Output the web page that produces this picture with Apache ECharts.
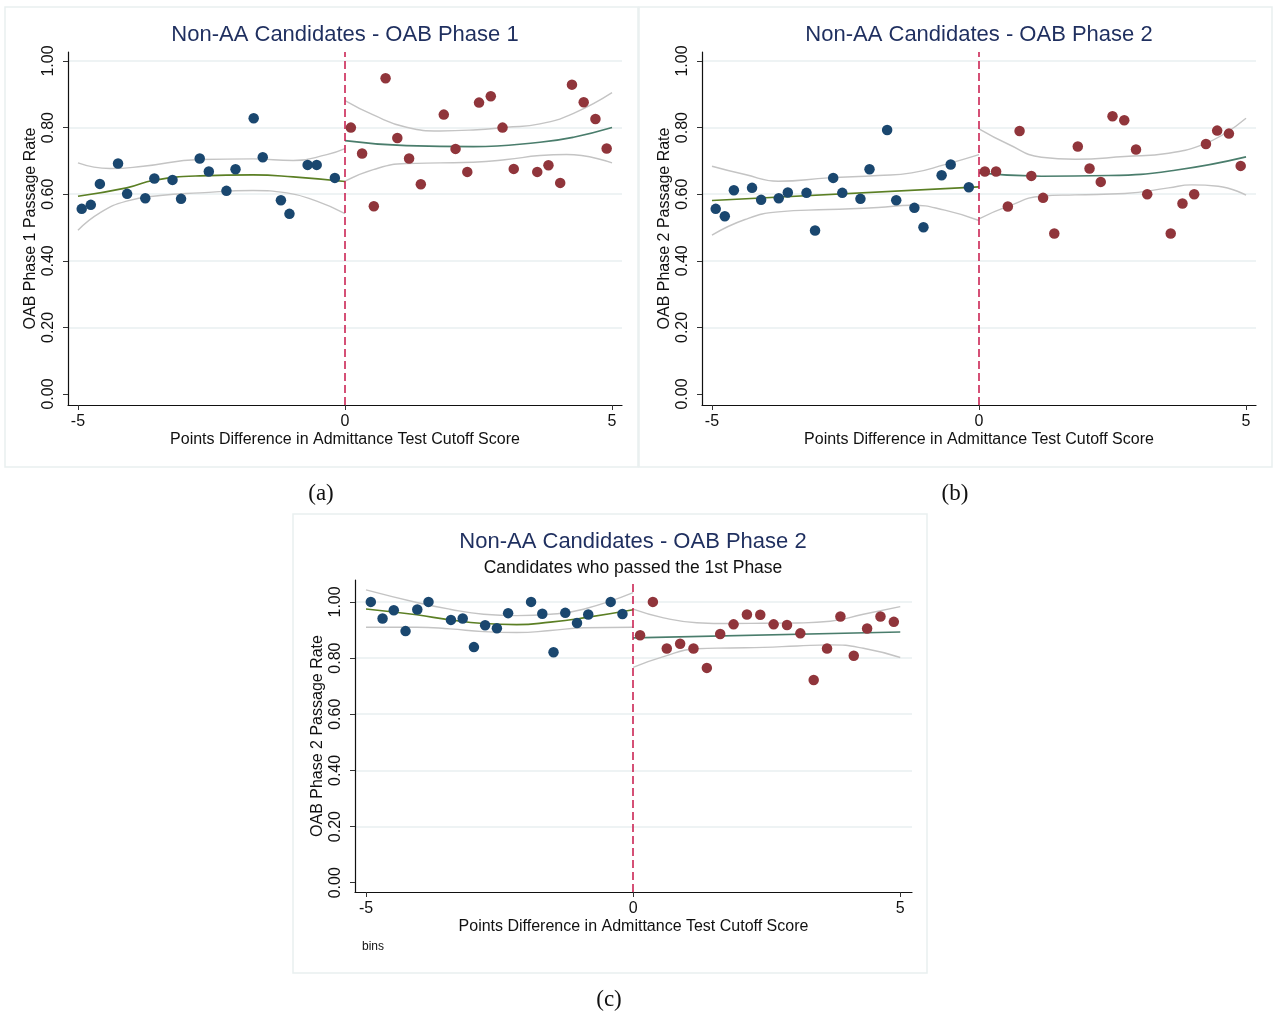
<!DOCTYPE html>
<html>
<head>
<meta charset="utf-8">
<script src="https://cdn.jsdelivr.net/npm/echarts@6/dist/echarts.min.js"></script>
<style>
  html, body { margin: 0; padding: 0; background: #ffffff; }
  #chart { width: 1277px; height: 1019px; }
</style>
</head>
<body>
<div id="chart"></div>
<script>
// Tick positions shared by the three panels
const xTickValues = [-5, 0, 5];
const yTickValues = [0, 0.2, 0.4, 0.6, 0.8, 1.0];

// Panel (a): OAB Phase 1 - binned passage rates below / above the cutoff
const p1BinsBelow = [
  [-4.93, 0.556], [-4.76, 0.568], [-4.59, 0.631], [-4.25, 0.692], [-4.08, 0.601],
  [-3.74, 0.588], [-3.57, 0.647], [-3.23, 0.643], [-3.07, 0.586], [-2.72, 0.707],
  [-2.55, 0.668], [-2.22, 0.610], [-2.05, 0.675], [-1.71, 0.828], [-1.54, 0.711],
  [-1.20, 0.582], [-1.04, 0.541], [-0.70, 0.688], [-0.53, 0.688], [-0.19, 0.649]
];
const p1BinsAbove = [
  [0.11, 0.800], [0.32, 0.722], [0.54, 0.564], [0.76, 0.948], [0.98, 0.769],
  [1.20, 0.707], [1.42, 0.630], [1.85, 0.839], [2.07, 0.736], [2.29, 0.667],
  [2.51, 0.875], [2.73, 0.894], [2.95, 0.800], [3.16, 0.676], [3.60, 0.667],
  [3.81, 0.687], [4.03, 0.634], [4.25, 0.929], [4.47, 0.876], [4.69, 0.826],
  [4.90, 0.737]
];
const p1FitBelow = [[-5.0, 0.594], [-4.09, 0.619], [-3.57, 0.642], [-2.72, 0.655], [-1.72, 0.658], [-0.97, 0.652], [0, 0.638]];
const p1CiHighBelow = [[-5.0, 0.694], [-4.40, 0.677], [-3.78, 0.684], [-2.72, 0.704], [-1.72, 0.706], [-0.97, 0.701], [-0.34, 0.719], [0, 0.737]];
const p1CiLowBelow = [[-5.0, 0.492], [-4.59, 0.544], [-4.09, 0.579], [-3.46, 0.596], [-2.72, 0.604], [-1.72, 0.611], [-1.09, 0.604], [-0.53, 0.579], [0, 0.542]];
const p1FitAbove = [[0, 0.761], [1.15, 0.746], [2.40, 0.743], [3.65, 0.756], [4.28, 0.771], [5.0, 0.800]];
const p1CiHighAbove = [[0, 0.881], [0.53, 0.838], [1.15, 0.801], [1.78, 0.790], [2.40, 0.793], [3.03, 0.801], [3.65, 0.811], [4.28, 0.843], [5.0, 0.905]];
const p1CiLowAbove = [[0, 0.639], [0.53, 0.674], [1.15, 0.692], [1.78, 0.694], [2.40, 0.696], [3.03, 0.704], [3.65, 0.716], [4.15, 0.719], [5.0, 0.694]];

// Panel (b): OAB Phase 2
const p2BinsBelow = [
  [-4.93, 0.556], [-4.76, 0.534], [-4.59, 0.612], [-4.25, 0.619], [-4.08, 0.583],
  [-3.75, 0.588], [-3.58, 0.605], [-3.23, 0.604], [-3.07, 0.491], [-2.73, 0.649],
  [-2.56, 0.604], [-2.22, 0.586], [-2.05, 0.675], [-1.72, 0.793], [-1.55, 0.582],
  [-1.21, 0.559], [-1.04, 0.501], [-0.70, 0.657], [-0.53, 0.689], [-0.19, 0.621]
];
const p2BinsAbove = [
  [0.11, 0.668], [0.32, 0.668], [0.54, 0.563], [0.76, 0.790], [0.98, 0.655],
  [1.20, 0.589], [1.41, 0.482], [1.85, 0.743], [2.07, 0.677], [2.28, 0.637],
  [2.50, 0.834], [2.72, 0.822], [2.94, 0.734], [3.15, 0.600], [3.59, 0.482],
  [3.81, 0.572], [4.03, 0.600], [4.25, 0.751], [4.46, 0.791], [4.68, 0.782],
  [4.90, 0.685]
];
const p2FitBelow = [[-5.0, 0.581], [0, 0.622]];
const p2CiHighBelow = [[-5.0, 0.684], [-4.38, 0.659], [-3.76, 0.639], [-2.82, 0.649], [-1.89, 0.656], [-1.26, 0.664], [-0.64, 0.689], [0, 0.719]];
const p2CiLowBelow = [[-5.0, 0.477], [-4.38, 0.524], [-3.76, 0.547], [-2.82, 0.554], [-1.89, 0.560], [-1.26, 0.567], [-0.64, 0.552], [0, 0.521]];
const p2FitAbove = [[0, 0.664], [1.17, 0.654], [2.42, 0.656], [3.67, 0.672], [5.0, 0.712]];
const p2CiHighAbove = [[0, 0.796], [0.55, 0.750], [1.17, 0.711], [1.80, 0.705], [2.73, 0.713], [3.55, 0.723], [4.17, 0.748], [4.61, 0.783], [5.0, 0.828]];
const p2CiLowAbove = [[0, 0.526], [0.55, 0.564], [1.17, 0.594], [1.80, 0.598], [2.73, 0.602], [3.55, 0.619], [3.98, 0.628], [4.48, 0.624], [5.0, 0.597]];

// Panel (c): OAB Phase 2, candidates who passed the 1st phase
const p3BinsBelow = [
  [-4.91, 1.000], [-4.69, 0.941], [-4.48, 0.970], [-4.26, 0.896], [-4.04, 0.973],
  [-3.83, 1.000], [-3.41, 0.936], [-3.19, 0.941], [-2.98, 0.839], [-2.77, 0.917],
  [-2.55, 0.906], [-2.34, 0.960], [-1.91, 1.000], [-1.70, 0.958], [-1.49, 0.821],
  [-1.27, 0.961], [-1.05, 0.925], [-0.84, 0.955], [-0.42, 1.000], [-0.20, 0.957]
];
const p3BinsAbove = [
  [0.13, 0.881], [0.37, 1.000], [0.63, 0.834], [0.88, 0.851], [1.13, 0.834],
  [1.38, 0.765], [1.63, 0.886], [1.88, 0.920], [2.13, 0.955], [2.38, 0.954],
  [2.63, 0.920], [2.88, 0.918], [3.13, 0.888], [3.38, 0.722], [3.63, 0.834],
  [3.88, 0.948], [4.13, 0.808], [4.38, 0.905], [4.63, 0.948], [4.88, 0.929]
];
const p3FitBelow = [[-5.0, 0.975], [-4.05, 0.954], [-3.43, 0.936], [-2.80, 0.923], [-2.18, 0.919], [-1.55, 0.928], [-0.93, 0.943], [0, 0.972]];
const p3CiHighBelow = [[-5.0, 1.043], [-4.05, 0.998], [-3.43, 0.974], [-2.80, 0.956], [-2.18, 0.951], [-1.55, 0.956], [-0.93, 0.974], [0, 1.033]];
const p3CiLowBelow = [[-5.0, 0.910], [-4.05, 0.910], [-3.43, 0.904], [-2.80, 0.894], [-2.18, 0.891], [-1.55, 0.898], [-0.93, 0.908], [0, 0.910]];
const p3FitAbove = [[0, 0.872], [5.0, 0.893]];
const p3CiHighAbove = [[0, 0.974], [0.57, 0.943], [1.19, 0.926], [1.82, 0.923], [2.44, 0.924], [3.07, 0.925], [3.69, 0.931], [4.31, 0.956], [5.0, 0.983]];
const p3CiLowAbove = [[0, 0.767], [0.57, 0.805], [1.19, 0.833], [1.82, 0.836], [2.44, 0.838], [3.07, 0.843], [3.69, 0.847], [4.31, 0.835], [5.0, 0.802]];

const titleTexts = ['Non-AA Candidates - OAB Phase 1', 'Non-AA Candidates - OAB Phase 2', 'Non-AA Candidates - OAB Phase 2'];
const subtitleText = 'Candidates who passed the 1st Phase';
const yAxisNames = ['OAB Phase 1 Passage Rate', 'OAB Phase 2 Passage Rate', 'OAB Phase 2 Passage Rate'];
const xAxisName = 'Points Difference in Admittance Test Cutoff Score';
const captions = ['(a)', '(b)', '(c)'];
const noteText = 'bins';

// ---- styling ----
const SANS = '"Liberation Sans", Arial, sans-serif';
const SERIF = '"Liberation Serif", "DejaVu Serif", serif';
const BLUE = '#1a476f';
const RED = '#90353b';
const FIT_BELOW = '#5b7f24';
const FIT_ABOVE = '#4a7d6c';
const CI = '#c4c4c4';
const CUT = '#c8174a';
const GRID_LINE = '#e8eff1';
const TITLE = '#1f2f5f';

const grids = [
  { left: 68, top: 52, width: 554, height: 353 },
  { left: 702, top: 52, width: 554, height: 353 },
  { left: 355, top: 580, width: 557, height: 312 }
];
const xRanges = [[-5.187, 5.187], [-5.187, 5.187], [-5.206, 5.22]];
const yRanges = [[-0.033, 1.027], [-0.033, 1.027], [-0.033, 1.078]];

function xAxisFor(i) {
  return {
    type: 'value', gridIndex: i, min: xRanges[i][0], max: xRanges[i][1],
    name: xAxisName, nameLocation: 'middle', nameGap: 27,
    nameTextStyle: { fontFamily: SANS, fontSize: 16, color: '#111' },
    axisLine: { show: true, onZero: false, lineStyle: { color: '#111', width: 1.2 } },
    axisTick: { show: true, length: 5, customValues: xTickValues, lineStyle: { color: '#333' } },
    axisLabel: { customValues: xTickValues, margin: 9, fontFamily: SANS, fontSize: 16, color: '#111' },
    splitLine: { show: false }
  };
}
function yAxisFor(i) {
  return {
    type: 'value', gridIndex: i, min: yRanges[i][0], max: yRanges[i][1],
    name: yAxisNames[i], nameLocation: 'middle', nameGap: 29, nameRotate: 90,
    nameTextStyle: { fontFamily: SANS, fontSize: 16, color: '#111' },
    axisLine: { show: true, onZero: false, lineStyle: { color: '#111', width: 1.2 } },
    axisTick: { show: true, length: 5, customValues: yTickValues, lineStyle: { color: '#333' } },
    axisLabel: {
      customValues: yTickValues, rotate: 90, margin: 11, fontFamily: SANS, fontSize: 16, color: '#111',
      formatter: v => v.toFixed(2)
    },
    splitLine: { show: true, lineStyle: { color: ['transparent', GRID_LINE, GRID_LINE, GRID_LINE, GRID_LINE, GRID_LINE], width: 1.5 } }
  };
}

function lineSeries(i, data, color, width) {
  return {
    type: 'line', xAxisIndex: i, yAxisIndex: i, data: data, smooth: 0.5,
    showSymbol: false, symbol: 'none', silent: true,
    lineStyle: { color: color, width: width }, z: 3
  };
}
function dotSeries(i, data, color) {
  return {
    type: 'scatter', xAxisIndex: i, yAxisIndex: i, data: data,
    symbol: 'circle', symbolSize: 10.5, itemStyle: { color: color, opacity: 1 }, z: 5
  };
}

const panels = [
  [p1BinsBelow, p1BinsAbove, p1FitBelow, p1CiHighBelow, p1CiLowBelow, p1FitAbove, p1CiHighAbove, p1CiLowAbove],
  [p2BinsBelow, p2BinsAbove, p2FitBelow, p2CiHighBelow, p2CiLowBelow, p2FitAbove, p2CiHighAbove, p2CiLowAbove],
  [p3BinsBelow, p3BinsAbove, p3FitBelow, p3CiHighBelow, p3CiLowBelow, p3FitAbove, p3CiHighAbove, p3CiLowAbove]
];

const series = [];
panels.forEach((p, i) => {
  const [below, above, fitB, hiB, loB, fitA, hiA, loA] = p;
  series.push(lineSeries(i, hiB, CI, 1.4));
  series.push(lineSeries(i, loB, CI, 1.4));
  series.push(lineSeries(i, hiA, CI, 1.4));
  series.push(lineSeries(i, loA, CI, 1.4));
  series.push(lineSeries(i, fitB, FIT_BELOW, 1.6));
  series.push(lineSeries(i, fitA, FIT_ABOVE, 1.6));
  series.push(dotSeries(i, below, BLUE));
  const s = dotSeries(i, above, RED);
  // cutoff marker at zero points difference
  s.markLine = {
    silent: true, symbol: 'none', label: { show: false },
    lineStyle: { color: CUT, type: [8, 4], width: 1.5 },
    data: [{ xAxis: 0 }]
  };
  series.push(s);
});

const titleCentres = [[345, 24], [979, 24], [633, 531]];
const titles = titleCentres.map((c, i) => ({
  text: titleTexts[i], left: c[0], top: c[1], textAlign: 'center', padding: 0,
  textStyle: { fontFamily: SANS, fontSize: 22, fontWeight: 'normal', color: TITLE }
}));
titles.push({
  text: subtitleText, left: 633, top: 559, textAlign: 'center', padding: 0,
  textStyle: { fontFamily: SANS, fontSize: 17.5, fontWeight: 'normal', color: '#111' }
});

const frames = [
  { x: 5, y: 7, width: 633, height: 460 },
  { x: 639, y: 7, width: 633, height: 460 },
  { x: 293, y: 514, width: 634, height: 459 }
];
const captionPos = [[321, 494], [955, 494], [609, 1000]];

const graphic = [];
frames.forEach(f => graphic.push({
  type: 'rect', shape: f, silent: true, z: -10,
  style: { fill: '#ffffff', stroke: '#e9f0f0', lineWidth: 1.5 }
}));
captionPos.forEach((p, i) => graphic.push({
  type: 'text', x: p[0], y: p[1], silent: true,
  style: { text: captions[i], font: '23px ' + SERIF, fill: '#111', align: 'center', verticalAlign: 'middle' }
}));
graphic.push({
  type: 'text', x: 362, y: 947, silent: true,
  style: { text: noteText, font: '12px ' + SANS, fill: '#111', align: 'left', verticalAlign: 'middle' }
});

const chart = echarts.init(document.getElementById('chart'), null, { renderer: 'canvas' });
chart.setOption({
  backgroundColor: '#ffffff',
  animation: false,
  title: titles,
  grid: grids,
  xAxis: [0, 1, 2].map(xAxisFor),
  yAxis: [0, 1, 2].map(yAxisFor),
  series: series,
  graphic: graphic
});
</script>
</body>
</html>
